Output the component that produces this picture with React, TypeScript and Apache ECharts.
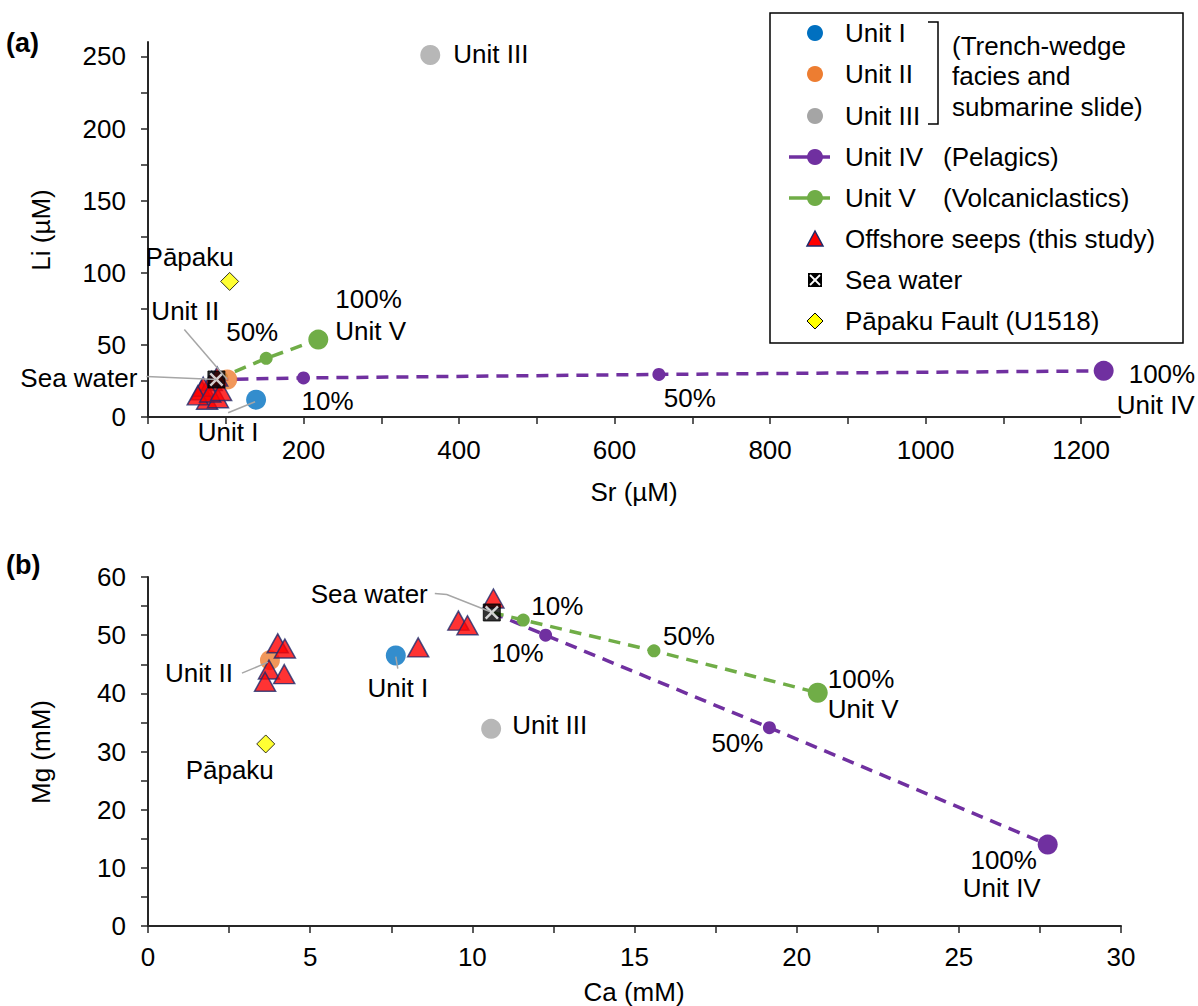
import React, { useEffect, useRef } from "react";
import * as echarts from "echarts";

// ---------- Panel (a): Sr (µM) vs Li (µM) ----------
const srLiUnitI = [[139, 12]];
const srLiUnitII = [[102, 26]];
const srLiUnitIII = [[363, 251]];
const srLiSeaWater = [[88, 26]];
const srLiPapaku = [[105, 94]];
const srLiUnitIVMix = [[88, 26], [200, 27.1], [657, 29.5], [1229, 32]];
const srLiUnitVMix = [[88, 26], [152, 40.7], [219, 53.7]];
const srLiSeeps = [
  [69, 18.6], [76, 12], [90, 13], [82, 25], [89, 28], [71, 21], [64, 15], [80, 17], [94, 18],
];

// ---------- Panel (b): Ca (mM) vs Mg (mM) ----------
const caMgUnitI = [[7.64, 46.5]];
const caMgUnitII = [[3.76, 45.7]];
const caMgUnitIII = [[10.58, 33.9]];
const caMgSeaWater = [[10.6, 53.9]];
const caMgPapaku = [[3.63, 31.3]];
const caMgUnitIVMix = [[10.6, 53.9], [12.26, 50.0], [19.16, 34.1], [27.74, 14.0]];
const caMgUnitVMix = [[10.6, 53.9], [11.57, 52.6], [15.6, 47.3], [20.65, 40.1]];
const caMgSeeps = [
  [4.0, 48.6], [4.22, 47.7], [3.73, 44.1], [4.2, 43.3], [3.61, 42.0],
  [8.33, 47.9], [9.57, 52.5], [9.85, 51.7], [10.65, 56.3],
];

// ---------- Axis ticks ----------
const srLabels = [0, 200, 400, 600, 800, 1000, 1200];
const srTicks = [0, 100, 200, 300, 400, 500, 600, 700, 800, 900, 1000, 1100, 1200];
const liLabels = [0, 50, 100, 150, 200, 250];
const liTicks = [0, 25, 50, 75, 100, 125, 150, 175, 200, 225, 250];
const caLabels = [0, 5, 10, 15, 20, 25, 30];
const caTicks = [0, 2.5, 5, 7.5, 10, 12.5, 15, 17.5, 20, 22.5, 25, 27.5, 30];
const mgLabels = [0, 10, 20, 30, 40, 50, 60];
const mgTicks = [0, 5, 10, 15, 20, 25, 30, 35, 40, 45, 50, 55, 60];

const FONT = '"Liberation Sans", Arial, Helvetica, sans-serif';
const FS = 26;
const C = {
  blue: "#0070C0",
  orange: "#ED7D31",
  gray: "#A5A5A5",
  purple: "#7030A0",
  green: "#70AD47",
  red: "#FF0000",
  navy: "#1F2A6B",
  yellow: "#FFFF00",
  axis: "#262626",
  leader: "#A6A6A6",
};

const X_PATH =
  "path://M2,0 L8,6 L14,0 L16,2 L10,8 L16,14 L14,16 L8,10 L2,16 L0,14 L6,8 L0,2 Z";

function axis(gridIndex: number, min: number, max: number, labels: number[], ticks: number[], margin: number) {
  return {
    type: "value",
    gridIndex,
    min,
    max,
    splitLine: { show: false },
    axisLine: { show: true, onZero: false, lineStyle: { color: C.axis, width: 2 } },
    axisTick: { show: true, inside: false, length: 7, customValues: ticks, lineStyle: { color: C.axis, width: 1.5 } },
    axisLabel: {
      customValues: labels,
      fontSize: FS,
      fontFamily: FONT,
      color: "#000",
      margin,
      formatter: (v: number) => String(v),
    },
  };
}

function mixSeries(name: string, data: number[][], color: string, xi: number) {
  const n = data.length;
  return {
    name,
    type: "line",
    xAxisIndex: xi,
    yAxisIndex: xi,
    data,
    symbol: "circle",
    showSymbol: true,
    symbolSize: (_v: any, p: any) => (p.dataIndex === 0 ? 0 : p.dataIndex === n - 1 ? 20 : 13),
    lineStyle: { color, width: 3.5, type: [12, 8] },
    itemStyle: { color },
    z: 2,
  };
}

function pointSeries(data: number[][], xi: number, symbol: string, size: any, itemStyle: any, z: number) {
  return {
    type: "scatter",
    xAxisIndex: xi,
    yAxisIndex: xi,
    data,
    symbol,
    symbolSize: size,
    itemStyle,
    z,
  };
}

function panelSeries(xi: number, d: any) {
  return [
    mixSeries("Unit IV", d.iv, C.purple, xi),
    mixSeries("Unit V", d.v, C.green, xi),
    pointSeries(d.i, xi, "circle", 20, { color: C.blue }, 3),
    pointSeries(d.ii, xi, "circle", 20, { color: C.orange }, 3),
    pointSeries(d.iii, xi, "circle", 20, { color: C.gray }, 3),
    pointSeries(d.pap, xi, "diamond", 18, { color: C.yellow, borderColor: "#000", borderWidth: 1 }, 3),
    pointSeries(d.seeps, xi, "triangle", [21, 19], { color: C.red, borderColor: C.navy, borderWidth: 1.5 }, 4),
    pointSeries(d.sw, xi, "rect", 17, { color: "#000", borderColor: "#000", borderWidth: 1 }, 5),
    pointSeries(d.sw, xi, X_PATH, 14, { color: "#fff" }, 6),
  ];
}

type Ann = {
  g: number;
  at: number[];
  text: string;
  dx: number;
  dy: number;
  align: "left" | "center" | "right";
  leader?: number[][];
};

const annotations: Ann[] = [
  // panel a
  { g: 0, at: srLiUnitIII[0], text: "Unit III", dx: 23, dy: -1, align: "left" },
  { g: 0, at: srLiPapaku[0], text: "Pāpaku", dx: -40, dy: -24, align: "center" },
  { g: 0, at: srLiUnitVMix[2], text: "100%", dx: 17, dy: -41, align: "left" },
  { g: 0, at: srLiUnitVMix[2], text: "Unit V", dx: 17, dy: -9, align: "left" },
  { g: 0, at: srLiUnitVMix[1], text: "50%", dx: -14, dy: -26, align: "center" },
  { g: 0, at: srLiUnitII[0], text: "Unit II", dx: -42, dy: -69, align: "center", leader: [[-43, -50], [0, 0]] },
  { g: 0, at: srLiSeaWater[0], text: "Sea water", dx: -79, dy: -2, align: "right", leader: [[-70, -3], [0, 0]] },
  { g: 0, at: srLiUnitIVMix[1], text: "10%", dx: 24, dy: 23, align: "center" },
  { g: 0, at: srLiUnitIVMix[2], text: "50%", dx: 31, dy: 24, align: "center" },
  { g: 0, at: srLiUnitIVMix[3], text: "100%", dx: 25, dy: 3, align: "left" },
  { g: 0, at: srLiUnitIVMix[3], text: "Unit IV", dx: 13, dy: 34, align: "left" },
  { g: 0, at: srLiUnitI[0], text: "Unit I", dx: -28, dy: 32, align: "center", leader: [[-28, 13], [-1, 2]] },
  // panel b
  { g: 1, at: caMgSeaWater[0], text: "Sea water", dx: -64, dy: -18, align: "right", leader: [[-57, -19], [-45, -18], [-2, -1]] },
  { g: 1, at: caMgUnitVMix[1], text: "10%", dx: 34, dy: -14, align: "center" },
  { g: 1, at: caMgUnitIVMix[1], text: "10%", dx: -28, dy: 18, align: "center" },
  { g: 1, at: caMgUnitVMix[2], text: "50%", dx: 35, dy: -15, align: "center" },
  { g: 1, at: caMgUnitIVMix[2], text: "50%", dx: -32, dy: 15, align: "center" },
  { g: 1, at: caMgUnitVMix[3], text: "100%", dx: 10, dy: -14, align: "left" },
  { g: 1, at: caMgUnitVMix[3], text: "Unit V", dx: 10, dy: 16, align: "left" },
  { g: 1, at: caMgUnitIVMix[3], text: "100%", dx: -44, dy: 15, align: "center" },
  { g: 1, at: caMgUnitIVMix[3], text: "Unit IV", dx: -46, dy: 43, align: "center" },
  { g: 1, at: caMgUnitIII[0], text: "Unit III", dx: 21, dy: -4, align: "left" },
  { g: 1, at: caMgUnitI[0], text: "Unit I", dx: 2, dy: 32, align: "center", leader: [[2, 13], [0, 1]] },
  { g: 1, at: caMgUnitII[0], text: "Unit II", dx: -37, dy: 13, align: "right", leader: [[-28, 13], [-2, 2]] },
  { g: 1, at: caMgPapaku[0], text: "Pāpaku", dx: -36, dy: 26, align: "center" },
];

function txt(text: string, x: number, y: number, align: string, extra: any = {}) {
  return {
    type: "text",
    x,
    y,
    z: 100,
    ...extra,
    style: {
      text,
      fill: "#000",
      font: `${extra.bold ? "bold " : ""}${extra.size || FS}px ${FONT}`,
      textAlign: align,
      textVerticalAlign: "middle",
      align,
      verticalAlign: "middle",
    },
  };
}

function legendGraphics() {
  const g: any[] = [];
  const x0 = 815;
  const tx = 845;
  const rows = [33, 74, 116, 157, 198, 239, 280, 321];
  g.push({ type: "rect", z: 90, shape: { x: 770, y: 13, width: 413, height: 330 }, style: { fill: "#fff", stroke: "#000", lineWidth: 1.5 } });
  const circ = (y: number, color: string) => ({ type: "circle", z: 95, shape: { cx: x0, cy: y, r: 8 }, style: { fill: color } });
  g.push(circ(rows[0], C.blue), circ(rows[1], C.orange), circ(rows[2], C.gray));
  g.push({ type: "line", z: 94, shape: { x1: 789, y1: rows[3], x2: 830, y2: rows[3] }, style: { stroke: C.purple, lineWidth: 3.5 } });
  g.push(circ(rows[3], C.purple));
  g.push({ type: "line", z: 94, shape: { x1: 789, y1: rows[4], x2: 830, y2: rows[4] }, style: { stroke: C.green, lineWidth: 3.5 } });
  g.push(circ(rows[4], C.green));
  g.push({ type: "polygon", z: 95, shape: { points: [[x0, rows[5] - 8], [x0 + 8, rows[5] + 7], [x0 - 8, rows[5] + 7]] }, style: { fill: C.red, stroke: C.navy, lineWidth: 1.5 } });
  g.push({ type: "rect", z: 95, shape: { x: x0 - 7, y: rows[6] - 7, width: 14, height: 14 }, style: { fill: "#000" } });
  g.push({ type: "line", z: 96, shape: { x1: x0 - 5, y1: rows[6] - 5, x2: x0 + 5, y2: rows[6] + 5 }, style: { stroke: "#fff", lineWidth: 1.8 } });
  g.push({ type: "line", z: 96, shape: { x1: x0 + 5, y1: rows[6] - 5, x2: x0 - 5, y2: rows[6] + 5 }, style: { stroke: "#fff", lineWidth: 1.8 } });
  g.push({ type: "polygon", z: 95, shape: { points: [[x0, rows[7] - 8], [x0 + 8, rows[7]], [x0, rows[7] + 8], [x0 - 8, rows[7]]] }, style: { fill: C.yellow, stroke: "#000", lineWidth: 1 } });
  const labels = ["Unit I", "Unit II", "Unit III", "Unit IV", "Unit V", "Offshore seeps (this study)", "Sea water", "Pāpaku Fault (U1518)"];
  labels.forEach((l, i) => g.push({ ...txt(l, tx, rows[i], "left"), z: 96 }));
  g.push({ type: "polyline", z: 95, shape: { points: [[928, 22], [938, 22], [938, 124], [928, 124]] }, style: { stroke: "#000", lineWidth: 1.5, fill: null } });
  g.push({ ...txt("(Trench-wedge", 952, 46, "left"), z: 96 });
  g.push({ ...txt("facies and", 952, 76, "left"), z: 96 });
  g.push({ ...txt("submarine slide)", 952, 107, "left"), z: 96 });
  g.push({ ...txt("(Pelagics)", 943, rows[3], "left"), z: 96 });
  g.push({ ...txt("(Volcaniclastics)", 943, rows[4], "left"), z: 96 });
  return g;
}

export default function App() {
  const ref = useRef<HTMLDivElement>(null);
  useEffect(() => {
    document.body.style.margin = "0";
    const chart = echarts.init(ref.current!, null, { renderer: "svg" });
    const option: any = {
      animation: false,
      backgroundColor: "#fff",
      textStyle: { fontFamily: FONT },
      grid: [
        { left: 148, top: 42, width: 972, height: 375 },
        { left: 148, top: 577, width: 973, height: 349 },
      ],
      xAxis: [axis(0, 0, 1250, srLabels, srTicks, 20), axis(1, 0, 30, caLabels, caTicks, 18)],
      yAxis: [axis(0, 0, 260, liLabels, liTicks, 22), axis(1, 0, 60, mgLabels, mgTicks, 22)],
      series: [
        ...panelSeries(0, { iv: srLiUnitIVMix, v: srLiUnitVMix, i: srLiUnitI, ii: srLiUnitII, iii: srLiUnitIII, pap: srLiPapaku, seeps: srLiSeeps, sw: srLiSeaWater }),
        ...panelSeries(1, { iv: caMgUnitIVMix, v: caMgUnitVMix, i: caMgUnitI, ii: caMgUnitII, iii: caMgUnitIII, pap: caMgPapaku, seeps: caMgSeeps, sw: caMgSeaWater }),
      ],
    };
    chart.setOption(option);

    const graphics: any[] = [];
    annotations.forEach((a) => {
      const p = chart.convertToPixel({ gridIndex: a.g }, a.at) as number[];
      graphics.push(txt(a.text, p[0] + a.dx, p[1] + a.dy, a.align));
      if (a.leader) {
        graphics.push({
          type: "polyline",
          z: 99,
          shape: { points: a.leader.map((q) => [p[0] + q[0], p[1] + q[1]]) },
          style: { stroke: C.leader, lineWidth: 1.5, fill: null },
        });
      }
    });
    // axis names & panel letters
    graphics.push(txt("Sr (µM)", 634, 492, "center"));
    graphics.push(txt("Ca (mM)", 634, 992, "center"));
    graphics.push(txt("Li (µM)", 41, 230, "center", { rotation: Math.PI / 2 }));
    graphics.push(txt("Mg (mM)", 41, 752, "center", { rotation: Math.PI / 2 }));
    graphics.push(txt("(a)", 6, 43, "left", { bold: true, size: 27 }));
    graphics.push(txt("(b)", 6, 565, "left", { bold: true, size: 27 }));
    graphics.push(...legendGraphics());
    chart.setOption({ graphic: graphics });
    return () => chart.dispose();
  }, []);
  return <div ref={ref} style={{ width: 1198, height: 1006 }} />;
}
